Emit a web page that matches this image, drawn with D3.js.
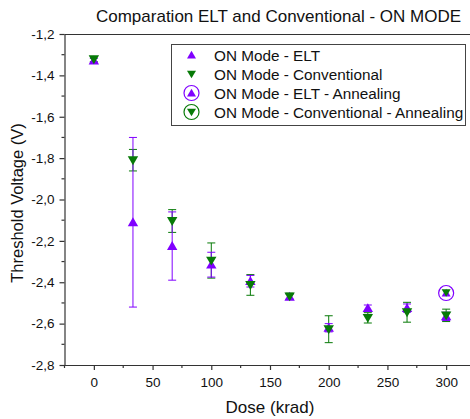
<!DOCTYPE html>
<html>
<head>
<meta charset="utf-8">
<script src="https://cdn.jsdelivr.net/npm/d3@7"></script>
<style>
  html, body { margin: 0; padding: 0; background: #fff; }
  svg { display: block; font-family: "Liberation Sans", Arial, sans-serif; }
</style>
</head>
<body>
<svg id="chart" width="470" height="419"></svg>
<script>
// ---- data ----
const doses = [0, 33.3, 66.7, 100, 133.3, 166.7, 200, 233.3, 266.7, 300];
const eltValues = [-1.328, -2.11, -2.225, -2.315, -2.395, -2.47, -2.62, -2.525, -2.525, -2.565];
const eltErrors = [0.01, 0.41, 0.165, 0.06, 0.028, 0.012, 0.02, 0.015, 0.02, 0.02];
const convValues = [-1.322, -1.81, -2.104, -2.295, -2.413, -2.468, -2.627, -2.572, -2.545, -2.56];
const convErrors = [0.012, 0.052, 0.055, 0.085, 0.05, 0.015, 0.065, 0.025, 0.048, 0.03];
const annealDose = [300];
const eltAnnealValues = [-2.452];
const convAnnealValues = [-2.45];
const xTickValues = [0, 50, 100, 150, 200, 250, 300];
const yTickValues = [-1.2, -1.4, -1.6, -1.8, -2.0, -2.2, -2.4, -2.6, -2.8];
const yTickLabels = ["-1,2", "-1,4", "-1,6", "-1,8", "-2,0", "-2,2", "-2,4", "-2,6", "-2,8"];
const legendLabels = ["ON Mode - ELT", "ON Mode - Conventional", "ON Mode - ELT - Annealing", "ON Mode - Conventional - Annealing"];
const title = "Comparation ELT and Conventional - ON MODE";

// ---- styles ----
const PURPLE = "#8000ff";
const GREEN = "#077a07";

const svg = d3.select("#chart");
const x = d3.scaleLinear().domain([-25, 325]).range([64.5, 475.5]);
const y = d3.scaleLinear().domain([-2.8, -1.2]).range([365, 34]);

// title
svg.append("text").attr("x", 278.5).attr("y", 22).attr("text-anchor", "middle")
  .attr("font-size", 17).attr("fill", "#111").text(title);

// frame top line
svg.append("line").attr("x1", 64.5).attr("x2", 470).attr("y1", 34.5).attr("y2", 34.5)
  .attr("stroke", "#333").attr("stroke-width", 1.2);

// y axis
const yAxis = d3.axisLeft(y).tickValues(yTickValues)
  .tickFormat((d, i) => yTickLabels[i]).tickSize(5).tickSizeOuter(0);
const gy = svg.append("g").attr("transform", "translate(64.5,0)").call(yAxis);
gy.selectAll("text").attr("font-size", 13.5).attr("fill", "#111").attr("x", -10);
gy.selectAll("line, path").attr("stroke", "#333").attr("stroke-width", 1.2);
// y minor ticks
const yMinor = d3.range(-2.7, -1.2, 0.2);
svg.append("g").selectAll("line").data(yMinor).join("line")
  .attr("x1", 64.5).attr("x2", 61.5).attr("y1", d => y(d)).attr("y2", d => y(d))
  .attr("stroke", "#333").attr("stroke-width", 1.2);

// x axis
const xAxis = d3.axisBottom(x).tickValues(xTickValues).tickSize(5).tickSizeOuter(0);
const gx = svg.append("g").attr("transform", "translate(0,365)").call(xAxis);
gx.selectAll("text").attr("font-size", 13.5).attr("fill", "#111").attr("y", 12).attr("dy", "0.71em");
gx.selectAll("line, path").attr("stroke", "#333").attr("stroke-width", 1.2);
const xMinor = d3.range(-25, 326, 50);
svg.append("g").selectAll("line").data(xMinor).join("line")
  .attr("x1", d => x(d)).attr("x2", d => x(d)).attr("y1", 365).attr("y2", 368)
  .attr("stroke", "#333").attr("stroke-width", 1.2);

// axis titles
svg.append("text").attr("x", 270).attr("y", 413).attr("text-anchor", "middle")
  .attr("font-size", 17).attr("fill", "#111").text("Dose (krad)");
svg.append("text").attr("transform", "translate(23,203) rotate(-90)").attr("text-anchor", "middle")
  .attr("font-size", 16.5).attr("fill", "#111").text("Threshold Voltage (V)");

// error bars
function errorBars(vals, errs, color) {
  const g = svg.append("g").attr("stroke", color).attr("stroke-width", 1).attr("fill", "none");
  doses.forEach((d, i) => {
    const cx = x(d), y1 = y(vals[i] + errs[i]), y2 = y(vals[i] - errs[i]);
    g.append("line").attr("x1", cx).attr("x2", cx).attr("y1", y1).attr("y2", y2);
    g.append("line").attr("x1", cx - 4).attr("x2", cx + 4).attr("y1", y1).attr("y2", y1);
    g.append("line").attr("x1", cx - 4).attr("x2", cx + 4).attr("y1", y2).attr("y2", y2);
  });
}
errorBars(convValues, convErrors, GREEN);
errorBars(eltValues, eltErrors, PURPLE);

function downTriPath(s) {
  return `M${-s},${-s * 0.75}L${s},${-s * 0.75}L0,${s * 0.95}Z`;
}
function upTriPath(s) {
  return `M${-s},${s * 0.75}L${s},${s * 0.75}L0,${-s * 0.95}Z`;
}

// ELT markers
svg.append("g").selectAll("path").data(doses).join("path")
  .attr("transform", (d, i) => `translate(${x(d)},${y(eltValues[i])})`)
  .attr("d", upTriPath(5.2)).attr("fill", PURPLE);
// Conventional markers
svg.append("g").selectAll("path").data(doses).join("path")
  .attr("transform", (d, i) => `translate(${x(d)},${y(convValues[i])})`)
  .attr("d", downTriPath(5.2)).attr("fill", GREEN);

// annealing markers
svg.append("g").selectAll("g").data(annealDose).join("g")
  .attr("transform", (d, i) => `translate(${x(d)},${y(eltAnnealValues[i])})`)
  .each(function () {
    d3.select(this).append("circle").attr("r", 7.5).attr("fill", "none").attr("stroke", PURPLE).attr("stroke-width", 1.2);
    d3.select(this).append("path").attr("d", upTriPath(4.5)).attr("fill", PURPLE);
  });
svg.append("g").selectAll("g").data(annealDose).join("g")
  .attr("transform", (d, i) => `translate(${x(d)},${y(convAnnealValues[i])})`)
  .each(function () {
    d3.select(this).append("path").attr("d", downTriPath(4.5)).attr("fill", GREEN);
  });

// legend
const lg = svg.append("g");
lg.append("rect").attr("x", 171.5).attr("y", 44.5).attr("width", 294).attr("height", 81)
  .attr("fill", "#fff").attr("stroke", "#444").attr("stroke-width", 1);
const rowY = [55, 74, 93, 112];
legendLabels.forEach((lab, i) => {
  const cy = rowY[i], cx = 191.5;
  const g = lg.append("g").attr("transform", `translate(${cx},${cy})`);
  const color = (i % 2 === 0) ? PURPLE : GREEN;
  if (i >= 2) g.append("circle").attr("r", 7.5).attr("fill", "none").attr("stroke", color).attr("stroke-width", 1.2);
  g.append("path").attr("d", i % 2 === 0 ? upTriPath(4.5) : downTriPath(4.5)).attr("fill", color);
  lg.append("text").attr("x", 214).attr("y", cy + 5.5).attr("font-size", 15.3).attr("fill", "#111").text(lab);
});
</script>
</body>
</html>
